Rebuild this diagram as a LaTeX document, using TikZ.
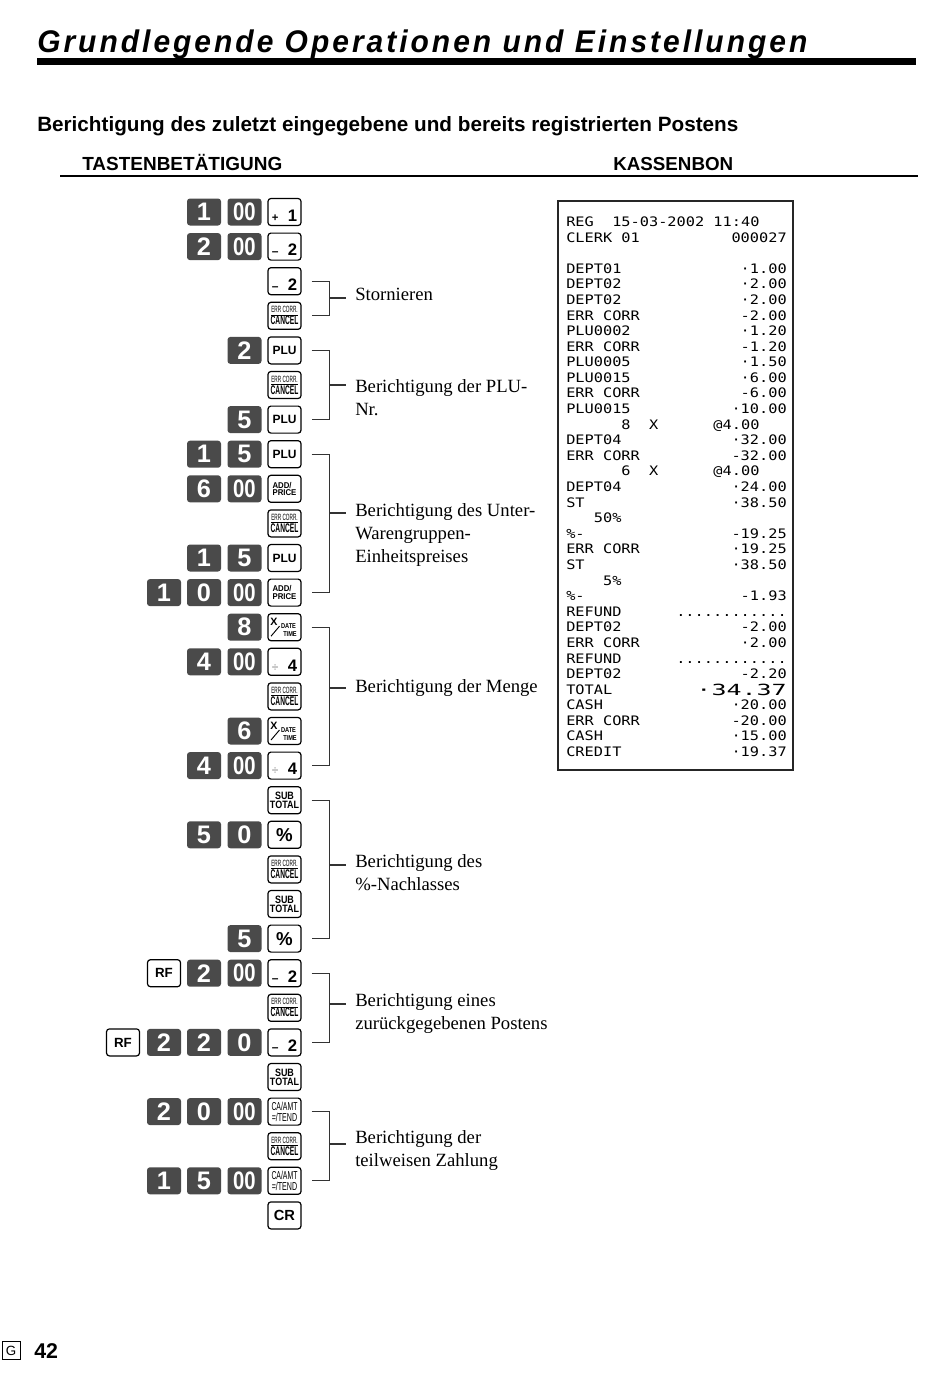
\documentclass[tikz,border=0pt]{standalone}
\usepackage{fontspec}
\setmainfont{Liberation Sans}
\newfontfamily\seriffont{Liberation Serif}
\newfontfamily\rcptfont{DejaVu Sans Mono}[FakeStretch=1.17]
\newfontfamily\rcptbig{DejaVu Sans Mono}[FakeStretch=1.63]
\newfontfamily\titlefont{Liberation Sans}[LetterSpace=10]
\usepackage{graphicx}
\usetikzlibrary{calc}
\definecolor{keygray}{HTML}{4A4A4A}
\definecolor{linegray}{HTML}{333333}
\newcommand\RY[1]{212+34.6*(#1-1)}
\newcommand\colF{284.5}
\newcommand\colB{244.5}
\newcommand\colA{204}
\newcommand\colZ{164}
\newcommand\colY{123}
\newcommand\dz{\scalebox{0.8}[1]{00}}
\newcommand\lsign[3]{\raisebox{-2.5pt}[9pt][0pt]{\makebox[19pt]{\fontsize{#3}{#3}\selectfont\bfseries #1\hfill\fontsize{12.5}{12.5}\selectfont\bfseries #2}}}
\newcommand\lplu{{\fontsize{9}{9}\selectfont\bfseries PLU}}
\newcommand\lerr{\shortstack{\scalebox{0.52}[1]{\fontsize{6.8}{6.8}\selectfont\underline{ERR CORR.}}\\[-2.6pt]\scalebox{0.53}[1]{\fontsize{9.4}{9.4}\selectfont\bfseries CANCEL}}}
\newcommand\ladd{\shortstack[l]{\scalebox{0.93}[1]{\fontsize{6.3}{6.3}\selectfont\bfseries ADD/}\\[-2pt]\scalebox{0.93}[1]{\fontsize{6.3}{6.3}\selectfont\bfseries PRICE}}}
\newcommand\lsub{\shortstack{\scalebox{0.84}[1]{\fontsize{8}{8}\selectfont\bfseries SUB}\\[-2pt]\scalebox{0.84}[1]{\fontsize{8}{8}\selectfont\bfseries TOTAL}}}
\newcommand\lca{\shortstack{\scalebox{0.6}[1]{\fontsize{8.6}{8.6}\selectfont CA/AMT}\\[-1.2pt]\scalebox{0.62}[1]{\fontsize{8.6}{8.6}\selectfont =/TEND}}}
\newcommand\lpct{{\fontsize{14}{14}\selectfont\bfseries\%}}
\newcommand\lcr{{\fontsize{11}{11}\selectfont\bfseries CR}}
\newcommand\lrf{{\fontsize{10}{10}\selectfont\bfseries RF}}
\newcommand\rcl[3]{\node[rtxt,anchor=base west] (rl#1x#2) at ({566+#2*9.2},{226.5+#1*15.59}) {#3};}
\newcommand\rcr[2]{\node[rtxt,anchor=base east] (rr#1) at (787,{226.5+#1*15.59}) {#2};}
\newcommand\xkey[1]{%
  \node[font=\bfseries\fontsize{8}{8}\selectfont, inner sep=0pt] (#1x) at ($(#1.center)+(-10.5,-5)$) {X};
  \draw[line width=0.7pt] ($(#1.center)+(-13.5,9)$) -- ($(#1.center)+(-5,-1)$);
  \node[font=\bfseries\fontsize{5.3}{5.3}\selectfont, inner sep=0pt] (#1d) at ($(#1.center)+(4,-1)$) {\scalebox{0.8}[1]{DATE}};
  \node[font=\bfseries\fontsize{5.3}{5.3}\selectfont, inner sep=0pt] (#1t) at ($(#1.center)+(5.5,7)$) {\scalebox{0.8}[1]{TIME}};}
\newcommand\brk[2]{\draw[br] ([xshift=7.5pt]#1.east) -- (#1.east -| bx) -- (#2.east -| bx) -- ([xshift=7.5pt]#2.east);}
\begin{document}
\begin{tikzpicture}[x=0.75pt,y=-0.75pt,
  dkey/.style={fill=keygray, rounded corners=2.2pt, minimum width=25.5pt, minimum height=20.25pt, inner sep=0pt, text=white, font=\fontsize{19}{19}\selectfont\bfseries},
  fkey/.style={draw=black, line width=0.9pt, fill=white, rounded corners=2.2pt, minimum width=24.75pt, minimum height=20.25pt, inner sep=0pt},
  br/.style={draw=linegray, line width=0.8pt},
  lbl/.style={font=\seriffont\fontsize{14}{17.25}\selectfont, anchor=base west, inner sep=0pt},
  rtxt/.style={font=\rcptfont\fontsize{9.8}{10}\selectfont, inner sep=0pt}]
\useasboundingbox (0,0) rectangle (950,1379);
\fill[white] (0,0) rectangle (950,1379);
% headings
\node[anchor=base west, inner sep=0pt] (title) at (37,52) {\resizebox{577.5pt}{17pt}{\titlefont\bfseries\itshape Grundlegende Operationen und Einstellungen}};
\fill (37,58) rectangle (916,65);
\node[anchor=base west, inner sep=0pt] (sub) at (37,131) {\resizebox{525.75pt}{!}{\fontsize{14}{14}\selectfont\bfseries Berichtigung des zuletzt eingegebene und bereits registrierten Postens}};
\node[anchor=base west, inner sep=0pt] (hk) at (82,170) {\resizebox{150pt}{!}{\fontsize{12}{12}\selectfont\bfseries TASTENBETÄTIGUNG}};
\node[anchor=base west, inner sep=0pt] (hb) at (613,170) {\resizebox{90pt}{!}{\fontsize{12}{12}\selectfont\bfseries KASSENBON}};
\draw[line width=1.5pt] (60,176) -- (918,176);
% keys
\node[dkey] (r1a) at (\colA,{\RY{1}}) {1};
\node[dkey] (r1b) at (\colB,{\RY{1}}) {\dz};
\node[fkey] (r1f) at (\colF,{\RY{1}}) {\lsign{+}{1}{8.5}};
\node[dkey] (r2a) at (\colA,{\RY{2}}) {2};
\node[dkey] (r2b) at (\colB,{\RY{2}}) {\dz};
\node[fkey] (r2f) at (\colF,{\RY{2}}) {\lsign{–}{2}{9}};
\node[fkey] (r3f) at (\colF,{\RY{3}}) {\lsign{–}{2}{9}};
\node[fkey] (r4f) at (\colF,{\RY{4}}) {\lerr};
\node[dkey] (r5b) at (\colB,{\RY{5}}) {2};
\node[fkey] (r5f) at (\colF,{\RY{5}}) {\lplu};
\node[fkey] (r6f) at (\colF,{\RY{6}}) {\lerr};
\node[dkey] (r7b) at (\colB,{\RY{7}}) {5};
\node[fkey] (r7f) at (\colF,{\RY{7}}) {\lplu};
\node[dkey] (r8a) at (\colA,{\RY{8}}) {1};
\node[dkey] (r8b) at (\colB,{\RY{8}}) {5};
\node[fkey] (r8f) at (\colF,{\RY{8}}) {\lplu};
\node[dkey] (r9a) at (\colA,{\RY{9}}) {6};
\node[dkey] (r9b) at (\colB,{\RY{9}}) {\dz};
\node[fkey] (r9f) at (\colF,{\RY{9}}) {\ladd};
\node[fkey] (r10f) at (\colF,{\RY{10}}) {\lerr};
\node[dkey] (r11a) at (\colA,{\RY{11}}) {1};
\node[dkey] (r11b) at (\colB,{\RY{11}}) {5};
\node[fkey] (r11f) at (\colF,{\RY{11}}) {\lplu};
\node[dkey] (r12z) at (\colZ,{\RY{12}}) {1};
\node[dkey] (r12a) at (\colA,{\RY{12}}) {0};
\node[dkey] (r12b) at (\colB,{\RY{12}}) {\dz};
\node[fkey] (r12f) at (\colF,{\RY{12}}) {\ladd};
\node[dkey] (r13b) at (\colB,{\RY{13}}) {8};
\node[fkey] (r13f) at (\colF,{\RY{13}}) {};
\xkey{r13f}
\node[dkey] (r14a) at (\colA,{\RY{14}}) {4};
\node[dkey] (r14b) at (\colB,{\RY{14}}) {\dz};
\node[fkey] (r14f) at (\colF,{\RY{14}}) {\lsign{\textcolor{gray}{\mdseries ÷}}{4}{9}};
\node[fkey] (r15f) at (\colF,{\RY{15}}) {\lerr};
\node[dkey] (r16b) at (\colB,{\RY{16}}) {6};
\node[fkey] (r16f) at (\colF,{\RY{16}}) {};
\xkey{r16f}
\node[dkey] (r17a) at (\colA,{\RY{17}}) {4};
\node[dkey] (r17b) at (\colB,{\RY{17}}) {\dz};
\node[fkey] (r17f) at (\colF,{\RY{17}}) {\lsign{\textcolor{gray}{\mdseries ÷}}{4}{9}};
\node[fkey] (r18f) at (\colF,{\RY{18}}) {\lsub};
\node[dkey] (r19a) at (\colA,{\RY{19}}) {5};
\node[dkey] (r19b) at (\colB,{\RY{19}}) {0};
\node[fkey] (r19f) at (\colF,{\RY{19}}) {\lpct};
\node[fkey] (r20f) at (\colF,{\RY{20}}) {\lerr};
\node[fkey] (r21f) at (\colF,{\RY{21}}) {\lsub};
\node[dkey] (r22b) at (\colB,{\RY{22}}) {5};
\node[fkey] (r22f) at (\colF,{\RY{22}}) {\lpct};
\node[fkey] (r23z) at (\colZ,{\RY{23}}) {\lrf};
\node[dkey] (r23a) at (\colA,{\RY{23}}) {2};
\node[dkey] (r23b) at (\colB,{\RY{23}}) {\dz};
\node[fkey] (r23f) at (\colF,{\RY{23}}) {\lsign{–}{2}{9}};
\node[fkey] (r24f) at (\colF,{\RY{24}}) {\lerr};
\node[fkey] (r25y) at (\colY,{\RY{25}}) {\lrf};
\node[dkey] (r25z) at (\colZ,{\RY{25}}) {2};
\node[dkey] (r25a) at (\colA,{\RY{25}}) {2};
\node[dkey] (r25b) at (\colB,{\RY{25}}) {0};
\node[fkey] (r25f) at (\colF,{\RY{25}}) {\lsign{–}{2}{9}};
\node[fkey] (r26f) at (\colF,{\RY{26}}) {\lsub};
\node[dkey] (r27z) at (\colZ,{\RY{27}}) {2};
\node[dkey] (r27a) at (\colA,{\RY{27}}) {0};
\node[dkey] (r27b) at (\colB,{\RY{27}}) {\dz};
\node[fkey] (r27f) at (\colF,{\RY{27}}) {\lca};
\node[fkey] (r28f) at (\colF,{\RY{28}}) {\lerr};
\node[dkey] (r29z) at (\colZ,{\RY{29}}) {1};
\node[dkey] (r29a) at (\colA,{\RY{29}}) {5};
\node[dkey] (r29b) at (\colB,{\RY{29}}) {\dz};
\node[fkey] (r29f) at (\colF,{\RY{29}}) {\lca};
\node[fkey] (r30f) at (\colF,{\RY{30}}) {\lcr};
% bracket texts
\node[lbl] (t1) at (355,300) {\begin{tabular}[t]{@{}l@{}}Stornieren\end{tabular}};
\node[lbl] (t2) at (355,392) {\begin{tabular}[t]{@{}l@{}}Berichtigung der PLU-\\Nr.\end{tabular}};
\node[lbl] (t3) at (355,516) {\begin{tabular}[t]{@{}l@{}}Berichtigung des Unter-\\Warengruppen-\\Einheitspreises\end{tabular}};
\node[lbl] (t4) at (355,692) {\begin{tabular}[t]{@{}l@{}}Berichtigung der Menge\end{tabular}};
\node[lbl] (t5) at (355,867) {\begin{tabular}[t]{@{}l@{}}Berichtigung des\\\%-Nachlasses\end{tabular}};
\node[lbl] (t6) at (355,1006) {\begin{tabular}[t]{@{}l@{}}Berichtigung eines\\zurückgegebenen Postens\end{tabular}};
\node[lbl] (t7) at (355,1143) {\begin{tabular}[t]{@{}l@{}}Berichtigung der\\teilweisen Zahlung\end{tabular}};
% brackets
\coordinate (bx) at (329.5,0);
\brk{r3f}{r4f}
\brk{r5f}{r7f}
\brk{r8f}{r12f}
\brk{r13f}{r17f}
\brk{r18f}{r22f}
\brk{r23f}{r25f}
\brk{r27f}{r29f}
\coordinate (tk1) at (329.5,298);
\coordinate (tk2) at (329.5,385);
\coordinate (tk3) at (329.5,513);
\coordinate (tk4) at (329.5,688);
\coordinate (tk5) at (329.5,865);
\coordinate (tk6) at (329.5,1004);
\coordinate (tk7) at (329.5,1144);
\foreach \i in {1,...,7} {\draw[br, shorten >=6.75pt] (tk\i) -- (tk\i -| t\i.west);}
% receipt
\draw[line width=1.1pt, draw=black!85] (558,201) rectangle (793,770);
\rcl{0}{0}{REG}\rcl{0}{5}{15-03-2002}\rcl{0}{16}{11:40}
\rcl{1}{0}{CLERK}\rcl{1}{6}{01}\rcr{1}{000027}
\rcl{3}{0}{DEPT01}\rcr{3}{·1.00}
\rcl{4}{0}{DEPT02}\rcr{4}{·2.00}
\rcl{5}{0}{DEPT02}\rcr{5}{·2.00}
\rcl{6}{0}{ERR}\rcl{6}{4}{CORR}\rcr{6}{-2.00}
\rcl{7}{0}{PLU0002}\rcr{7}{·1.20}
\rcl{8}{0}{ERR}\rcl{8}{4}{CORR}\rcr{8}{-1.20}
\rcl{9}{0}{PLU0005}\rcr{9}{·1.50}
\rcl{10}{0}{PLU0015}\rcr{10}{·6.00}
\rcl{11}{0}{ERR}\rcl{11}{4}{CORR}\rcr{11}{-6.00}
\rcl{12}{0}{PLU0015}\rcr{12}{·10.00}
\rcl{13}{6}{8}\rcl{13}{9}{X}\rcl{13}{16}{@4.00}
\rcl{14}{0}{DEPT04}\rcr{14}{·32.00}
\rcl{15}{0}{ERR}\rcl{15}{4}{CORR}\rcr{15}{-32.00}
\rcl{16}{6}{6}\rcl{16}{9}{X}\rcl{16}{16}{@4.00}
\rcl{17}{0}{DEPT04}\rcr{17}{·24.00}
\rcl{18}{0}{ST}\rcr{18}{·38.50}
\rcl{19}{3}{50\%}
\rcl{20}{0}{\%-}\rcr{20}{-19.25}
\rcl{21}{0}{ERR}\rcl{21}{4}{CORR}\rcr{21}{·19.25}
\rcl{22}{0}{ST}\rcr{22}{·38.50}
\rcl{23}{4}{5\%}
\rcl{24}{0}{\%-}\rcr{24}{-1.93}
\rcl{25}{0}{REFUND}\rcr{25}{............}
\rcl{26}{0}{DEPT02}\rcr{26}{-2.00}
\rcl{27}{0}{ERR}\rcl{27}{4}{CORR}\rcr{27}{·2.00}
\rcl{28}{0}{REFUND}\rcr{28}{............}
\rcl{29}{0}{DEPT02}\rcr{29}{-2.20}
\rcl{30}{0}{TOTAL}
\node[rtxt, font=\rcptbig\fontsize{11.5}{11.5}\selectfont, anchor=base east] (rr30) at (787,{226.5+30*15.59+1}) {·34.37};
\rcl{31}{0}{CASH}\rcr{31}{·20.00}
\rcl{32}{0}{ERR}\rcl{32}{4}{CORR}\rcr{32}{-20.00}
\rcl{33}{0}{CASH}\rcr{33}{·15.00}
\rcl{34}{0}{CREDIT}\rcr{34}{·19.37}
% footer
\node[draw, line width=0.6pt, inner sep=0pt, minimum width=13.5pt, minimum height=14pt, font=\fontsize{10}{10}\selectfont] (gbox) at (11,1350.5) {G};
\node[anchor=base west, inner sep=0pt, font=\bfseries\fontsize{16}{16}\selectfont] (pg) at (34,1358) {42};
\end{tikzpicture}
\end{document}
